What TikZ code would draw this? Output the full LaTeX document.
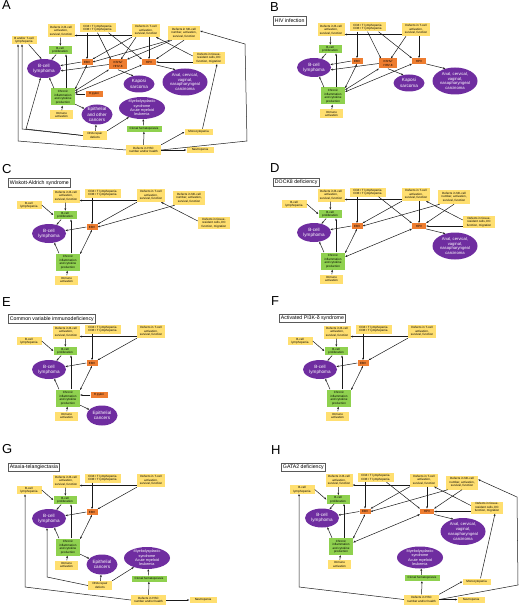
\documentclass[tikz,border=0pt]{standalone}
\usepackage{fontspec}
\setmainfont{Liberation Sans}
\usetikzlibrary{shapes.geometric,arrows.meta}
\definecolor{yel}{HTML}{FFDF70}
\definecolor{grn}{HTML}{8FD14F}
\definecolor{org}{HTML}{EE7D30}
\definecolor{pur}{HTML}{6F2DA0}
\tikzset{
 bx/.style={inner sep=0.6pt, align=center, font=\fontsize{3}{3.5}\selectfont, text=black},
 yb/.style={bx, fill=yel},
 gb/.style={bx, fill=grn},
 ob/.style={bx, fill=org},
 pe/.style={ellipse, fill=pur, text=white, inner sep=-1.5pt, align=center, font=\fontsize{4.6}{5.3}\selectfont},
 ttl/.style={draw=black!65, line width=0.7pt, fill=white, inner sep=1.6pt, font=\fontsize{5.2}{6}\selectfont, anchor=west, minimum height=8.5pt},
 ar/.style={draw=black!90, line width=0.5pt, -{Stealth[length=2.3pt,width=1.9pt]}},
 dar/.style={draw=black!90, line width=0.5pt, {Stealth[length=2.3pt,width=1.9pt]}-{Stealth[length=2.3pt,width=1.9pt]}},
 plab/.style={font=\fontsize{13}{13}\selectfont, anchor=base west, inner sep=0pt},
}
% nodes (positions in the frame of panel A)
\newcommand\NBdef{\node[yb,minimum width=27pt,minimum height=13pt] (bdef) at (61,31) {Defects in B-cell\\activation,\\survival, function};}
\newcommand\NCd{\node[yb,minimum width=36pt,minimum height=9pt] (cd4) at (97.5,28) {CD4+ T lymphopenia\\CD8+ T lymphopenia};}
\newcommand\NTdef{\node[yb,minimum width=28pt,minimum height=13pt] (tdef) at (146,30.5) {Defects in T-cell\\activation,\\survival, function};}
\newcommand\NNk{\node[yb,minimum width=32pt,minimum height=14pt] (nk) at (184,33) {Defects in NK-cell\\number, activation,\\survival, function};}
\newcommand\NLy[1]{\node[yb,minimum width=25pt,minimum height=8.5pt] (lymph) at (24,40) {#1\\lymphopenia};}
\newcommand\NPr{\node[gb,minimum width=23pt,minimum height=8.5pt] (bprolif) at (60,50) {B-cell\\proliferation};}
\newcommand\NEbv{\node[ob,minimum width=11pt,minimum height=5.5pt] (ebv) at (87,62) {EBV};}
\newcommand\NKs{\node[ob,minimum width=18pt,minimum height=10pt] (kshv) at (118,64.5) {KSHV/\\HHV-8};}
\newcommand\NHpv{\node[ob,minimum width=14pt,minimum height=5.5pt] (hpv) at (149,62) {HPV};}
\newcommand\NTis{\node[yb,minimum width=32pt,minimum height=12pt] (tissue) at (209,58) {Defects in tissue-\\resident cells, DC\\function, migration};}
\newcommand\NLo{\node[pe,minimum width=34pt,minimum height=19pt] (lymphoma) at (44,68.5) {B-cell\\lymphoma};}
\newcommand\NKap{\node[pe,minimum width=31pt,minimum height=17pt] (kaposi) at (139,84) {Kaposi\\sarcoma};}
\newcommand\NCa{\node[pe,minimum width=45pt,minimum height=27pt,font=\fontsize{4.2}{4.9}\selectfont] (carc) at (185,82) {Anal, cervical,\\vaginal,\\nasopharyngeal\\carcinoma};}
\newcommand\NCh{\node[gb,minimum width=24pt,minimum height=17pt] (chronic) at (63,97) {Chronic\\inflammation\\and cytokine\\production};}
\newcommand\NHp{\node[ob,minimum width=17pt,minimum height=6pt] (hpyl) at (94,94) {H pylori};}
\newcommand\NIm{\node[yb,minimum width=23pt,minimum height=9pt] (immune) at (61.5,115) {Immune\\activation};}
\newcommand\NEp[1]{\node[pe,minimum width=31pt,minimum height=20pt] (epith) at (97,114.5) {#1};}
\newcommand\NMds{\node[pe,minimum width=46pt,minimum height=22pt,font=\fontsize{3.8}{4.3}\selectfont] (mds) at (142,108) {Myelodysplastic\\syndrome\\Acute myeloid\\leukemia};}
\newcommand\NDna{\node[yb,minimum width=24pt,minimum height=9pt] (dna) at (95,135.5) {DNA repair\\defects};}
\newcommand\NCl{\node[gb,minimum width=35pt,minimum height=6pt] (clonal) at (144,128.5) {Clonal hematopoiesis};}
\newcommand\NMo{\node[yb,minimum width=28pt,minimum height=6pt] (mono) at (198.5,132) {Monocytopenia};}
\newcommand\NHsc{\node[yb,minimum width=35pt,minimum height=10pt] (hsc) at (143.5,150) {Defects in HSC\\number and/or health};}
\newcommand\NNe[1][200]{\node[yb,minimum width=27pt,minimum height=6pt] (neutro) at (#1,150) {Neutropenia};}
\newcommand\NTi[2]{\node[ttl] (title) at (3,#1) {#2};}
% edges
\newcommand\ETB{\draw[ar] (tdef.west |- 0,35.5) -- (bdef.east |- 0,35.5);}
\newcommand\EBP{\draw[ar] (bdef) -- (bprolif);}
\newcommand\ELP{\draw[ar] (lymph.east) -- (bprolif.west);}
\newcommand\ELL{\draw[ar] ([xshift=-8pt]lymph.south east) -- (lymphoma.105);}
\newcommand\EPL{\draw[ar] (bprolif) -- (lymphoma);}
\newcommand\ECE{\draw[ar] (cd4.south -| ebv.north) -- (ebv.north);}
\newcommand\ECK{\draw[ar] (cd4.south) -- ([xshift=2pt]kshv.north west);}
\newcommand\ECH{\draw[ar] ([xshift=11pt]cd4.south) -- (hpv.north west);}
\newcommand\ETE{\draw[ar] (tdef.south west) -- (ebv.north east);}
\newcommand\ETK{\draw[ar] ([xshift=-10pt]tdef.south) -- ([xshift=3pt]kshv.north);}
\newcommand\ETH{\draw[ar] (tdef.south -| hpv.north) -- (hpv.north);}
\newcommand\ENE{\draw[ar] ([xshift=2pt]nk.south west) -- (ebv.east);}
\newcommand\ENK{\draw[ar] ([xshift=4pt]nk.south west) -- (kshv.north east);}
\newcommand\ENH{\draw[ar] (nk.south) -- (hpv.north east);}
\newcommand\EST{\draw[ar] ([yshift=2pt]tissue.west) -- ([xshift=-4pt]tdef.south east);}
\newcommand\ESH{\draw[ar] (tissue.west |- hpv.east) -- (hpv.east);}
\newcommand\EEL{\draw[ar] (ebv.west) -- (lymphoma.10);}
\newcommand\EKL{\draw[ar] (kshv.west) -- (lymphoma.-8);}
\newcommand\EKK{\draw[ar] (kshv.south) -- (kaposi.125);}
\newcommand\EHC{\draw[ar] (hpv.south east) -- (carc.128);}
\newcommand\ECrL{\draw[ar] ([xshift=-9pt]chronic.north) -- (lymphoma.-60);}
\newcommand\ECrP{\path ([xshift=3pt]chronic.north) coordinate (cpb); \draw[ar] (cpb) -- (cpb |- bprolif.south);}
\newcommand\ECrE{\draw[dar] ([yshift=-0.5pt]chronic.north east) -- (ebv.south);}
\newcommand\ECrK{\draw[dar] ([yshift=-2.5pt]chronic.north east) -- (kshv.south west);}
\newcommand\ECrH{\draw[dar] ([yshift=-4.5pt]chronic.north east) -- (hpv.south west);}
\newcommand\EHp{\draw[ar] (hpyl.west) -- (hpyl.west -| chronic.east);}
\newcommand\ECrEp{\draw[ar] ([yshift=1.5pt]chronic.south east) -- (epith.155);}
\newcommand\EIm{\draw[ar] (immune) -- (chronic);}
\newcommand\EDE{\draw[ar] (dna) -- (epith);}
\newcommand\EDM{\draw[ar] (dna.north east) -- (mds.-145);}
\newcommand\ECM{\draw[ar] (clonal) -- (mds);}
\newcommand\EHsC{\draw[ar] (hsc) -- (clonal);}
\newcommand\EHM{\draw[ar] (hsc.north east) -- (mono.west);}
\newcommand\EHN{\draw[ar] (hsc.east) -- (neutro.west);}
\newcommand\EMT{\draw[ar] ([xshift=4pt]mono.north) -- ([xshift=8pt]tissue.south);}
\begin{document}
\begin{tikzpicture}[x=1pt,y=-1pt]
\fill[white] (0,0) rectangle (520,607);
\useasboundingbox (0,0) rectangle (520,607);
% panel letters
\node[plab] (lA) at (2,10) {A};
\node[plab] (lB) at (270,12) {B};
\node[plab] (lC) at (2,173) {C};
\node[plab] (lD) at (270,172) {D};
\node[plab] (lE) at (2,306) {E};
\node[plab] (lF) at (271,305) {F};
\node[plab] (lG) at (2,453) {G};
\node[plab] (lH) at (271,454) {H};
% ---------- A ----------
\begin{scope}[name prefix=a-]
\NBdef \NCd \NTdef \NNk \NLy{B and/or T-cell} \NPr \NEbv \NKs \NHpv \NTis
\NLo \NKap \NCa \NCh \NHp \NIm \NEp{Epithelial\\and other\\cancers} \NMds \NDna \NCl \NMo \NHsc \NNe
\ETB \EBP \ELL \EPL \ECE \ECK \ECH \ETE \ETK \ETH \ENE \ENK \ENH \EST \ESH
\EEL \EKL \EKK \EHC \ECrL \ECrP \ECrE \ECrK \ECrH \EHp \ECrEp \EIm
\EDE \EDM \ECM \EHsC \EHM \EHN \EMT
\draw[ar] (hsc.west) -- (18,141) -- (18,141 |- lymph.south);
\draw[ar] (dna.west) -- (22,129) -- (22,129 |- lymph.south);
\draw[ar] (dna.west) -- (26,129) -- (lymphoma.-110);
\draw[ar] (hsc.east) -- (247,141) -- (245,44) -- ([yshift=2pt]nk.east);
\end{scope}
% ---------- B ----------
\begin{scope}[shift={(270,-1)},name prefix=b-]
\NTi{22}{HIV infection}
\NBdef \NCd \NTdef \NPr \NEbv \NKs \NHpv \NLo \NKap \NCa \NCh \NIm
\ETB \EBP \EPL \ECE \ECK \ECH \ETK \ETH \EEL \EKL \EKK \EHC
\ECrL \ECrP \ECrE \ECrK \ECrH \EIm
\end{scope}
% ---------- C ----------
\begin{scope}[shift={(5,165)},name prefix=c-]
\NTi{18}{Wiskott-Aldrich syndrome}
\NBdef \NCd \NTdef \NNk \NLy{B-cell} \NPr \NEbv \NTis \NLo \NCh \NIm
\ETB \EBP \ELP \EPL \ECE \ETE \ENE \EST \EEL \ECrL \ECrP \ECrE \EIm
\end{scope}
% ---------- D ----------
\begin{scope}[shift={(270,164)},name prefix=d-]
\NTi{18.5}{DOCK8 deficiency}
\NBdef \NCd \NTdef \NNk \NLy{B-cell} \NPr \NEbv \NHpv \NTis \NLo \NCa \NCh \NIm
\ETB \EBP \ELP \EPL \ECE \ECH \ETE \ETH \ENE \ENH \EST \ESH \EEL \EHC
\ECrL \ECrP \ECrE \ECrH \EIm
\end{scope}
% ---------- E ----------
\begin{scope}[shift={(5,301)},name prefix=e-]
\NTi{18}{Common variable immunodeficiency}
\NBdef \NCd \NTdef \NLy{B-cell} \NPr \NEbv \NLo \NCh \NHp \NIm \NEp{Epithelial\\cancers}
\ETB \EBP \ELP \EPL \ECE \ETE \EEL \ECrL \ECrP \ECrE \EHp \ECrEp \EIm
\end{scope}
% ---------- F ----------
\begin{scope}[shift={(276,301)},name prefix=f-]
\NTi{17.5}{Activated PI3K-δ syndrome}
\NBdef \NCd \NTdef \NLy{B-cell} \NPr \NEbv \NLo \NCh \NIm
\ETB \EBP \ELP \EPL \ECE \ETE \EEL \ECrL \ECrP \ECrE \EIm
\end{scope}
% ---------- G ----------
\begin{scope}[shift={(5,450)},name prefix=g-]
\NTi{17.5}{Ataxia-telangiectasia}
\NBdef \NCd \NTdef \NLy{B-cell} \NPr \NEbv \NLo \NCh \NIm \NEp{Epithelial\\cancers}
\NMds \NDna \NCl \NHsc \NNe[198]
\ETB \EBP \ELP \EPL \ECE \ETE \EEL \ECrL \ECrP \ECrE \ECrEp \EIm
\EDE \EDM \ECM \EHsC \EHN
\draw[ar] (hsc.west) -- (20,137) -- (20,137 |- lymph.south);
\draw[ar] (dna.west) -- (42,127) -- (42,127 |- lymphoma.south);
\end{scope}
% ---------- H ----------
\begin{scope}[shift={(278,449.5)},name prefix=h-]
\NTi{18}{GATA2 deficiency}
\NBdef \NCd \NTdef \NNk \NLy{B-cell} \NPr \NEbv \NHpv \NTis \NLo \NCa \NCh \NIm
\NMds \NCl \NMo \NHsc \NNe[193]
\ETB \EBP \ELP \EPL \ECE \ECH \ETE \ETH \ENE \ENH \EST \ESH \EEL \EHC
\ECrL \ECrP \ECrE \ECrH \EIm \ECM \EHsC \EHM \EHN \EMT
\draw[ar] (hsc.west) -- (21,137.5) -- (21,137.5 |- lymph.south);
\draw[ar] (hsc.east) -- (240,135.5) -- (239,47.5) -- ([yshift=3pt]nk.east);
\end{scope}
\end{tikzpicture}
\end{document}
